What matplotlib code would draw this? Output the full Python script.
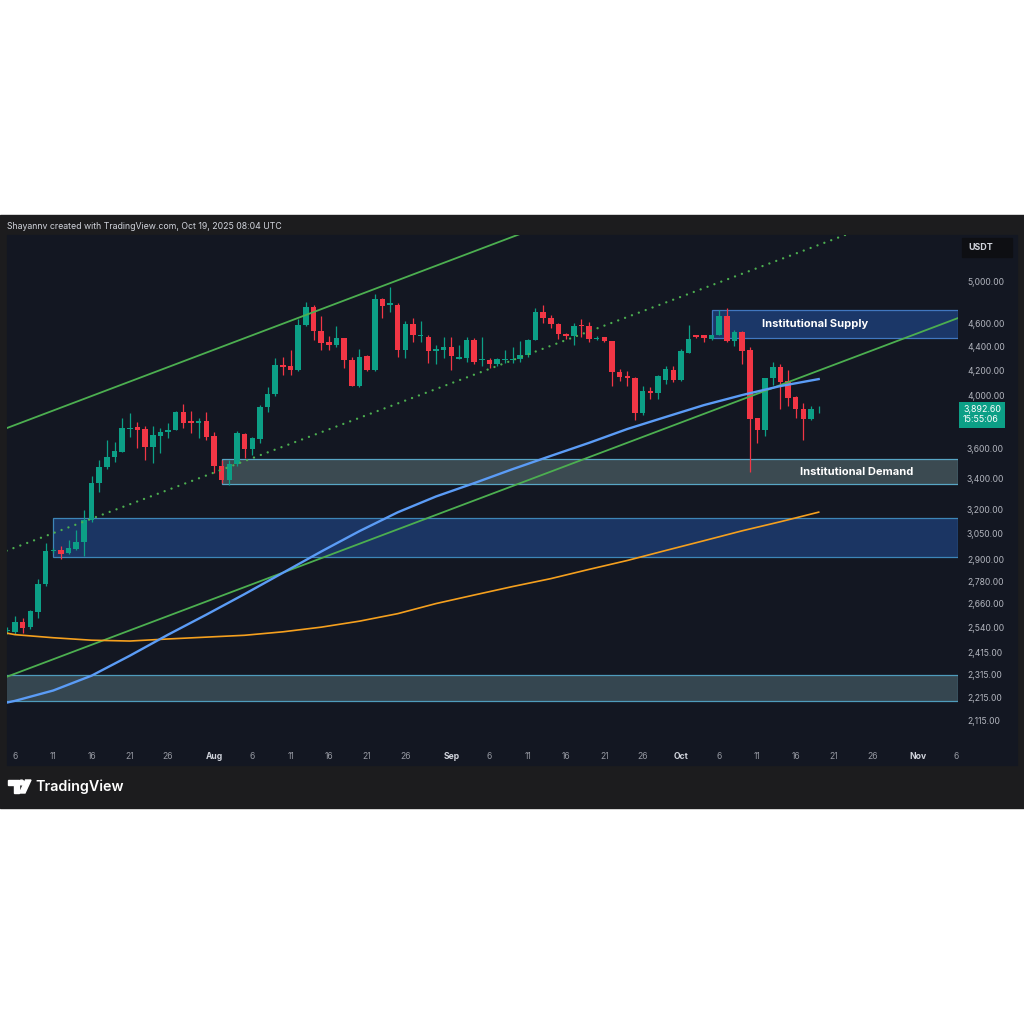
import matplotlib
matplotlib.use("Agg")
import matplotlib.pyplot as plt
import matplotlib.dates as mdates
import matplotlib.transforms as mtransforms
from matplotlib.patches import Rectangle, Polygon, Circle
from matplotlib.ticker import NullLocator
import pandas as pd

plt.rcParams['font.family'] = ['Inter', 'DejaVu Sans']

# daily candles, Jul 5 .. Oct 19 2025 (ETH/USDT)
dates = pd.date_range("2025-07-05", "2025-10-19", freq="D")
opens = [2520, 2515, 2565, 2541, 2614, 2764, 2946, 2955, 2936, 2961, 3003, 3133, 3367, 3474, 3543,
         3579, 3745, 3756, 3745, 3615, 3695, 3720, 3733, 3868, 3800, 3787, 3803, 3694, 3485, 3387,
         3492, 3710, 3600, 3673, 3908, 4008, 4241, 4233, 4200, 4591, 4754, 4536, 4438, 4415, 4470,
         4282, 4071, 4320, 4200, 4826, 4775, 4772, 4367, 4597, 4490, 4485, 4361, 4366, 4392, 4296,
         4305, 4452, 4285, 4285, 4250, 4285, 4288, 4289, 4322, 4455, 4705, 4649, 4597, 4510, 4490,
         4590, 4582, 4465, 4478, 4442, 4184, 4150, 4134, 3863, 4031, 4015, 4120, 4200, 4118, 4346,
         4495, 4495, 4460, 4495, 4672, 4443, 4525, 4367, 3826, 3734, 4134, 4225, 4110, 3985, 3890,
         3818, 3890]
highs = [2540, 2595, 2585, 2627, 2791, 2992, 2965, 2975, 3013, 3073, 3195, 3415, 3523, 3664, 3650,
         3825, 3860, 3795, 3765, 3765, 3752, 3789, 3877, 3933, 3877, 3825, 3870, 3722, 3523, 3523,
         3726, 3716, 3688, 3923, 4063, 4302, 4310, 4367, 4638, 4796, 4772, 4672, 4487, 4575, 4475,
         4310, 4376, 4325, 4874, 4840, 4945, 4790, 4623, 4652, 4628, 4500, 4410, 4485, 4480, 4411,
         4480, 4470, 4480, 4302, 4302, 4370, 4392, 4450, 4460, 4740, 4772, 4678, 4605, 4520, 4605,
         4638, 4614, 4490, 4485, 4445, 4208, 4192, 4143, 4071, 4063, 4160, 4233, 4233, 4376, 4590,
         4500, 4500, 4500, 4720, 4747, 4545, 4530, 4392, 3826, 4134, 4266, 4250, 4200, 3992, 3940,
         3912, 3915]
lows = [2505, 2505, 2510, 2530, 2588, 2753, 2935, 2900, 2930, 2955, 2922, 3122, 3308, 3460, 3510,
        3579, 3686, 3607, 3523, 3502, 3572, 3680, 3733, 3751, 3716, 3680, 3664, 3434, 3367, 3354,
        3481, 3536, 3558, 3645, 3870, 3992, 4160, 4160, 4192, 4577, 4455, 4367, 4367, 4392, 4216,
        4070, 4065, 4192, 4192, 4649, 4710, 4310, 4302, 4434, 4434, 4255, 4250, 4302, 4200, 4290,
        4266, 4250, 4233, 4218, 4233, 4262, 4262, 4266, 4310, 4455, 4605, 4565, 4460, 4460, 4410,
        4485, 4435, 4455, 4435, 4075, 4110, 4071, 3810, 3848, 3969, 3969, 4087, 4103, 4110, 4340,
        4470, 4434, 4452, 4495, 4434, 4400, 4250, 3441, 3645, 3690, 4079, 3890, 3915, 3826, 3664,
        3810, 3865]
closes = [2527, 2565, 2535, 2620, 2764, 2946, 2952, 2932, 2965, 3003, 3131, 3367, 3474, 3543, 3586,
          3751, 3752, 3735, 3615, 3700, 3720, 3738, 3870, 3790, 3787, 3803, 3686, 3485, 3387, 3492,
          3714, 3600, 3677, 3908, 4008, 4244, 4225, 4200, 4591, 4754, 4536, 4430, 4415, 4470, 4282,
          4071, 4310, 4200, 4826, 4765, 4785, 4367, 4597, 4495, 4498, 4361, 4376, 4392, 4315, 4307,
          4452, 4266, 4292, 4250, 4290, 4290, 4293, 4330, 4455, 4705, 4649, 4597, 4510, 4490, 4580,
          4578, 4460, 4472, 4442, 4184, 4143, 4134, 3863, 4035, 4015, 4150, 4210, 4118, 4359, 4462,
          4480, 4470, 4495, 4672, 4443, 4525, 4361, 3818, 3734, 4134, 4225, 4102, 3977, 3890, 3818,
          3890, 3892.6]

# moving averages read at 5-day steps (plus Jul 5)
ma_dates = pd.DatetimeIndex(["2025-07-05"]).append(pd.date_range("2025-07-06", periods=22, freq="5D"))
ma_fast = [2192, 2199, 2244, 2310, 2402, 2503, 2603, 2710, 2825, 2945, 3065, 3180, 3280, 3367,
           3460, 3551, 3643, 3743, 3832, 3922, 4000, 4071, 4127]
ma_slow = [2510, 2503, 2488, 2476, 2472, 2482, 2491, 2500, 2517, 2540, 2570, 2608, 2660, 2705,
           2750, 2793, 2844, 2894, 2951, 3008, 3067, 3122, 3181]

# channel lines (two anchor points each)
upper_line = (["2025-07-04", "2025-09-14"], [3730, 5608])
mid_line = (["2025-07-04", "2025-10-29"], [2935, 5677])
lower_line = (["2025-07-04", "2025-11-08"], [2293, 4698])

# zones: start date, low, high
supply_zone = ("2025-10-05", 4476, 4724)
demand_zone = ("2025-08-02", 3360, 3530)
blue_zone = ("2025-07-11", 2911, 3144)
low_zone = ("2025-07-01", 2198, 2315)

price_ticks = [2115, 2215, 2315, 2415, 2540, 2660, 2780, 2900, 3050, 3200, 3400, 3600,
               4000, 4200, 4400, 4600, 5000]
tick_dates = ["2025-07-06", "2025-07-11", "2025-07-16", "2025-07-21", "2025-07-26", "2025-08-01",
              "2025-08-06", "2025-08-11", "2025-08-16", "2025-08-21", "2025-08-26", "2025-09-01",
              "2025-09-06", "2025-09-11", "2025-09-16", "2025-09-21", "2025-09-26", "2025-10-01",
              "2025-10-06", "2025-10-11", "2025-10-16", "2025-10-21", "2025-10-26", "2025-11-01",
              "2025-11-06"]
tick_labels = ["6", "11", "16", "21", "26", "Aug", "6", "11", "16", "21", "26", "Sep", "6", "11",
               "16", "21", "26", "Oct", "6", "11", "16", "21", "26", "Nov", "6"]
last_price = 3892.60

UP = "#0c9f86"
DOWN = "#f23645"
BG = "#131722"

fig = plt.figure(figsize=(10.24, 10.24), dpi=100)
fig.patch.set_facecolor("white")
# helper: pixel coords from top-left of the image
px = mtransforms.Affine2D().scale(1 / 1024, -1 / 1024).translate(0, 1) + fig.transFigure

fig.add_artist(Rectangle((0, 215), 1024, 593, transform=px, color="#1c1c1e", zorder=0))
fig.add_artist(Rectangle((7, 235), 1010, 530, transform=px, color=BG, zorder=0))

ax = fig.add_axes([7 / 1024, 1 - 745 / 1024, 951 / 1024, 510 / 1024])
ax.set_facecolor(BG)
ax.set_yscale("log")
base = mdates.date2num(pd.Timestamp("2025-07-06"))
x0, x1 = base - 1.045, base + 123.2
ax.set_xlim(x0, x1)
ax.set_ylim(2017, 5471)

xs = mdates.date2num(dates)

# zones
for (start, lo, hi), fc, ec in [(low_zone, "#354650", "#4f9cbc"),
                                (blue_zone, "#1b3563", "#3d86b8"),
                                (demand_zone, "#3b4a51", "#58a6c5"),
                                (supply_zone, "#1b3768", "#4177c0")]:
    s = max(mdates.date2num(pd.Timestamp(start)), x0 - 1)
    ax.add_patch(Rectangle((s, lo), x1 - s, hi - lo, facecolor=fc, edgecolor=ec,
                           linewidth=0.9, zorder=1))

# candles
colors = [UP if c >= o else DOWN for o, c in zip(opens, closes)]
ax.vlines(xs, lows, highs, colors=colors, linewidth=0.9, zorder=3)
bottoms = [min(o, c) for o, c in zip(opens, closes)]
heights = [max(abs(c - o), 4) for o, c in zip(opens, closes)]
ax.bar(xs, heights, bottom=bottoms, width=0.72, color=colors, linewidth=0, zorder=3)

# channel
for (d, p) in [upper_line, lower_line]:
    ax.plot(mdates.date2num(pd.to_datetime(d)), p, color="#4caf50", linewidth=1.3, zorder=4)
ax.plot(mdates.date2num(pd.to_datetime(mid_line[0])), mid_line[1], color="#4caf50",
        linewidth=1.7, linestyle=(0, (0.01, 3.1)), dash_capstyle="round", zorder=4)

# moving averages
ax.plot(mdates.date2num(ma_dates), ma_slow, color="#f5a01e", linewidth=1.2, zorder=4)
ax.plot(mdates.date2num(ma_dates), ma_fast, color="#5b9cf6", linewidth=1.7, zorder=4,
        solid_joinstyle="round")

ax.text(base + 104.5, (supply_zone[1] * supply_zone[2]) ** 0.5, "Institutional Supply",
        color="white", fontsize=8, fontweight="bold", ha="center", va="center", zorder=5)
ax.text(base + 109.9, (demand_zone[1] * demand_zone[2]) ** 0.5, "Institutional Demand",
        color="white", fontsize=8, fontweight="bold", ha="center", va="center", zorder=5)

# axes styling
for sp in ax.spines.values():
    sp.set_visible(False)
ax.yaxis.tick_right()
ax.yaxis.set_minor_locator(NullLocator())
ax.set_yticks(price_ticks)
ax.set_yticklabels([f"{v:,.2f}" for v in price_ticks])
ax.tick_params(axis="y", length=0, pad=6.5, labelsize=6.2, labelcolor="#b2b5be")
ax.set_xticks(mdates.date2num(pd.to_datetime(tick_dates)))
ax.set_xticklabels(tick_labels)
ax.tick_params(axis="x", length=0, pad=5, labelsize=6.2, labelcolor="#9598a1")
for lab in ax.get_xticklabels():
    if lab.get_text().isalpha():
        lab.set_fontweight("bold")
        lab.set_color("#d1d4dc")

# last price tag
blend = mtransforms.blended_transform_factory(ax.transAxes, ax.transData)
ax.annotate(f"{last_price:,.2f}\n15:55:06", xy=(1.0, last_price), xycoords=blend,
            xytext=(5, -6), textcoords="offset pixels", ha="left", va="center",
            fontsize=6.4, color="white", linespacing=1.15, annotation_clip=False,
            bbox=dict(boxstyle="square,pad=0.4", fc=UP, ec="none"))

# currency box
fig.add_artist(Rectangle((962, 238), 50, 19, transform=px, color="#0e0f13", zorder=2))
fig.text(968 / 1024, 1 - 247.5 / 1024, "USDT", color="#d1d4dc", fontsize=6.4,
         fontweight="bold", va="center")

# header and footer
fig.text(7 / 1024, 1 - 226.5 / 1024, "Shayannv created with TradingView.com, Oct 19, 2025 08:04 UTC",
         color="#d1d4dc", fontsize=6.3, va="center")
fig.add_artist(Polygon([(8, 780), (18.5, 780), (18.5, 793), (13.5, 793), (13.5, 785), (8, 785)],
                       closed=True, transform=px, color="white"))
fig.add_artist(Circle((21.5, 782.5), 2.4, transform=px, color="white"))
fig.add_artist(Polygon([(25.5, 780), (31, 780), (25, 793), (19.5, 793)], closed=True,
                       transform=px, color="white"))
fig.text(35 / 1024, 1 - 786.5 / 1024, "TradingView", color="white", fontsize=10.3,
         fontweight="semibold", va="center")

fig.savefig("out.png", dpi=100, facecolor="white")
